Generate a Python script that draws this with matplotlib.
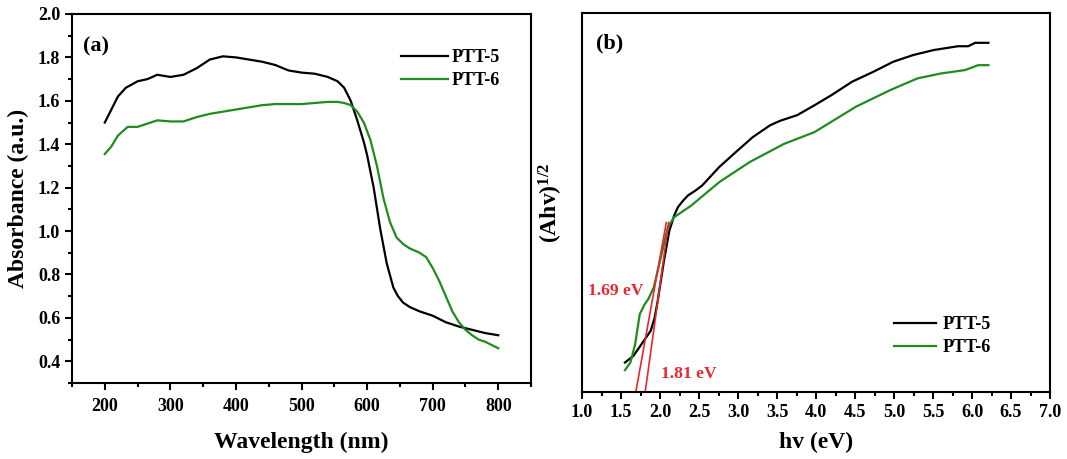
import numpy as np
import matplotlib
matplotlib.use('Agg')
import matplotlib.pyplot as plt
from matplotlib.ticker import MultipleLocator

plt.rcParams['font.family'] = ['Liberation Serif', 'DejaVu Serif']
plt.rcParams['font.weight'] = 'bold'
plt.rcParams['mathtext.fontset'] = 'custom'
plt.rcParams['mathtext.rm'] = 'Liberation Serif:bold'
plt.rcParams['mathtext.it'] = 'Liberation Serif:bold'
plt.rcParams['mathtext.bf'] = 'Liberation Serif:bold'

# ---- panel (a): absorbance spectra ----
wl_5 = [200, 210, 220, 232, 250, 265, 280, 300, 320, 340, 360, 380, 400, 420, 440,
        460, 480, 500, 520, 540, 555, 565, 575, 585, 595, 600, 610, 620, 630, 640, 647,
        655, 665, 680, 700, 720, 740, 760, 780, 800]
abs_5 = [1.50, 1.56, 1.62, 1.66, 1.69, 1.70, 1.72, 1.71, 1.72, 1.75, 1.79, 1.805, 1.80,
         1.79, 1.78, 1.765, 1.74, 1.73, 1.725, 1.71, 1.69, 1.66, 1.60, 1.51, 1.41, 1.35,
         1.20, 1.01, 0.85, 0.74, 0.70, 0.67, 0.65, 0.63, 0.61, 0.58, 0.56, 0.545, 0.53, 0.52]

wl_6 = [200, 210, 220, 235, 250, 260, 280, 300, 320, 340, 360, 380, 400, 420, 440,
        460, 480, 500, 520, 540, 555, 565, 575, 585, 595, 605, 615, 625, 635, 645, 655,
        665, 680, 690, 700, 710, 720, 730, 740, 750, 760, 770, 780, 800]
abs_6 = [1.355, 1.39, 1.44, 1.48, 1.48, 1.49, 1.51, 1.505, 1.505, 1.525, 1.54, 1.55,
         1.56, 1.57, 1.58, 1.585, 1.585, 1.585, 1.59, 1.595, 1.595, 1.59, 1.58, 1.55,
         1.50, 1.42, 1.30, 1.15, 1.04, 0.97, 0.94, 0.92, 0.90, 0.88, 0.83, 0.77, 0.70,
         0.63, 0.58, 0.545, 0.52, 0.50, 0.49, 0.46]

# ---- panel (b): Tauc plot (arbitrary units) ----
hv_5 = [1.55, 1.66, 1.79, 1.88, 1.93, 1.97, 2.05, 2.12, 2.18, 2.23, 2.30, 2.36, 2.45,
        2.54, 2.76, 2.97, 3.19, 3.41, 3.54, 3.76, 3.98, 4.20, 4.46, 4.73, 4.99, 5.25,
        5.51, 5.82, 5.95, 6.04, 6.21]
tauc_5 = [0.77, 0.95, 1.34, 1.61, 1.95, 2.40, 3.46, 4.26, 4.65, 4.88, 5.06, 5.19, 5.31,
          5.45, 5.94, 6.33, 6.73, 7.04, 7.16, 7.31, 7.57, 7.84, 8.19, 8.45, 8.72, 8.90,
          9.03, 9.13, 9.13, 9.22, 9.22]

hv_6 = [1.55, 1.62, 1.68, 1.74, 1.80, 1.85, 1.92, 2.01, 2.10, 2.18, 2.40, 2.76, 3.15,
        3.59, 3.98, 4.51, 4.95, 5.30, 5.60, 5.91, 6.08, 6.21]
tauc_6 = [0.57, 0.77, 1.25, 2.05, 2.30, 2.45, 2.76, 3.55, 4.35, 4.61, 4.92, 5.54, 6.07,
          6.55, 6.86, 7.53, 7.97, 8.28, 8.41, 8.50, 8.63, 8.63]

# tangent lines (x intercepts = band gaps)
fit_5_x = [1.69, 2.08]
fit_6_x = [1.81, 2.11]
fit_y = [0.0, 4.47]

black = '#000000'
green = '#1e8c1e'
red = '#e8262b'

fig = plt.figure(figsize=(10.67, 4.59), dpi=100, facecolor='white')
ax1 = fig.add_axes([0.0675, 0.1656, 0.4302, 0.8039])
ax2 = fig.add_axes([0.5455, 0.1466, 0.4386, 0.8244])

for ax in (ax1, ax2):
    for sp in ax.spines.values():
        sp.set_linewidth(1.5)
    ax.tick_params(which='both', direction='out', width=1.5, top=False, right=False,
                   labelsize=13)
    ax.tick_params(which='major', length=5)
    ax.tick_params(which='minor', length=3)
ax1.tick_params(axis='x', which='major', pad=6)

# (a)
ax1.plot(wl_5, abs_5, color=black, lw=1.6, label='PTT-5')
ax1.plot(wl_6, abs_6, color=green, lw=1.6, label='PTT-6')
ax1.set_xlim(150, 850)
ax1.set_ylim(0.3, 2.0)
ax1.xaxis.set_minor_locator(MultipleLocator(50))
ax1.yaxis.set_minor_locator(MultipleLocator(0.1))
ax1.set_xticks([200, 300, 400, 500, 600, 700, 800])
ax1.set_yticks(np.arange(0.4, 2.01, 0.2))
ax1.set_yticklabels(['%.1f' % v for v in np.arange(0.4, 2.01, 0.2)], fontweight='bold')
ax1.set_xticklabels(['200', '300', '400', '500', '600', '700', '800'], fontweight='bold')
ax1.set_xlabel('Wavelength (nm)', fontsize=17, fontweight='bold', labelpad=12)
ax1.set_ylabel('Absorbance (a.u.)', fontsize=17, fontweight='bold', labelpad=6)
ax1.text(0.024, 0.911, '(a)', transform=ax1.transAxes, fontsize=16, fontweight='bold',
         va='center', ha='left')
ax1.legend(loc='upper left', bbox_to_anchor=(0.717, 0.905), frameon=False,
           handlelength=2.6, handletextpad=0.2, labelspacing=0.35, borderpad=0,
           borderaxespad=0, prop={'weight': 'bold', 'size': 13})

# (b)
ax2.plot(hv_5, tauc_5, color=black, lw=1.6, label='PTT-5')
ax2.plot(hv_6, tauc_6, color=green, lw=1.6, label='PTT-6')
ax2.plot(fit_5_x, fit_y, color=red, lw=1.2)
ax2.plot(fit_6_x, fit_y, color=red, lw=1.2)
ax2.set_xlim(1.0, 7.0)
ax2.set_ylim(0, 10)
ax2.xaxis.set_minor_locator(MultipleLocator(0.25))
ax2.set_yticks([])
ax2.set_xticks(np.arange(1.0, 7.01, 0.5))
ax2.set_xticklabels(['%.1f' % v for v in np.arange(1.0, 7.01, 0.5)], fontweight='bold')
ax2.set_xlabel('hv (eV)', fontsize=17, fontweight='bold', labelpad=8)
ax2.set_ylabel('(Ahv)$^{1/2}$', fontsize=17, fontweight='bold', labelpad=12)
ax2.text(0.029, 0.921, '(b)', transform=ax2.transAxes, fontsize=16, fontweight='bold',
         va='center', ha='left')
ax2.text(1.07, 2.67, '1.69 eV', color=red, fontsize=12.5, fontweight='bold',
         va='center', ha='left')
ax2.text(2.01, 0.46, '1.81 eV', color=red, fontsize=12.5, fontweight='bold',
         va='center', ha='left')
ax2.legend(loc='upper left', bbox_to_anchor=(0.667, 0.20), frameon=False,
           handlelength=2.3, handletextpad=0.4, labelspacing=0.35, borderpad=0,
           borderaxespad=0, prop={'weight': 'bold', 'size': 13})

fig.savefig('out.png', dpi=100, facecolor='white')
